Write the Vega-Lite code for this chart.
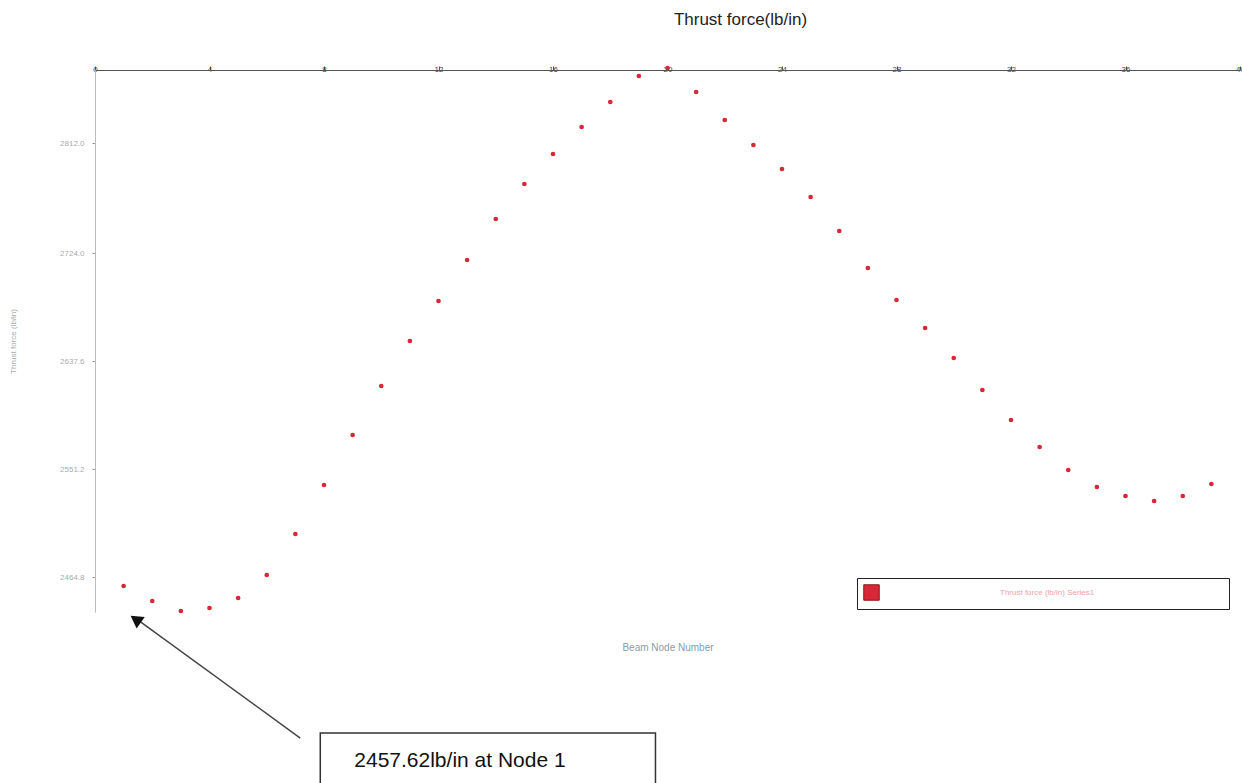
{
  "$schema": "https://vega.github.io/schema/vega-lite/v6.json",
  "width": 1145,
  "height": 542,
  "autosize": {"type": "none"},
  "padding": {"left": 95, "top": 70, "right": 2, "bottom": 171},
  "background": "white",
  "config": {"view": {"stroke": null}, "font": "Liberation Sans"},
  "title": {"text": "Thrust force(lb/in)", "fontSize": 17, "fontWeight": "normal", "color": "#222", "anchor": "middle", "dx": 73, "offset": 36, "font": "Liberation Sans"},
  "datasets": {
    "pts": [
      {"node": 1, "force": 2457.6, "series": "Thrust force (lb/in)  Series1"},
      {"node": 2, "force": 2445.6, "series": "Thrust force (lb/in)  Series1"},
      {"node": 3, "force": 2437.6, "series": "Thrust force (lb/in)  Series1"},
      {"node": 4, "force": 2440.0, "series": "Thrust force (lb/in)  Series1"},
      {"node": 5, "force": 2448.0, "series": "Thrust force (lb/in)  Series1"},
      {"node": 6, "force": 2466.4, "series": "Thrust force (lb/in)  Series1"},
      {"node": 7, "force": 2499.2, "series": "Thrust force (lb/in)  Series1"},
      {"node": 8, "force": 2538.4, "series": "Thrust force (lb/in)  Series1"},
      {"node": 9, "force": 2578.4, "series": "Thrust force (lb/in)  Series1"},
      {"node": 10, "force": 2617.6, "series": "Thrust force (lb/in)  Series1"},
      {"node": 11, "force": 2653.6, "series": "Thrust force (lb/in)  Series1"},
      {"node": 12, "force": 2685.6, "series": "Thrust force (lb/in)  Series1"},
      {"node": 13, "force": 2718.4, "series": "Thrust force (lb/in)  Series1"},
      {"node": 14, "force": 2751.2, "series": "Thrust force (lb/in)  Series1"},
      {"node": 15, "force": 2779.2, "series": "Thrust force (lb/in)  Series1"},
      {"node": 16, "force": 2803.2, "series": "Thrust force (lb/in)  Series1"},
      {"node": 17, "force": 2824.8, "series": "Thrust force (lb/in)  Series1"},
      {"node": 18, "force": 2844.8, "series": "Thrust force (lb/in)  Series1"},
      {"node": 19, "force": 2865.6, "series": "Thrust force (lb/in)  Series1"},
      {"node": 20, "force": 2872.0, "series": "Thrust force (lb/in)  Series1"},
      {"node": 21, "force": 2852.8, "series": "Thrust force (lb/in)  Series1"},
      {"node": 22, "force": 2830.4, "series": "Thrust force (lb/in)  Series1"},
      {"node": 23, "force": 2810.4, "series": "Thrust force (lb/in)  Series1"},
      {"node": 24, "force": 2791.2, "series": "Thrust force (lb/in)  Series1"},
      {"node": 25, "force": 2768.8, "series": "Thrust force (lb/in)  Series1"},
      {"node": 26, "force": 2741.6, "series": "Thrust force (lb/in)  Series1"},
      {"node": 27, "force": 2712.0, "series": "Thrust force (lb/in)  Series1"},
      {"node": 28, "force": 2686.4, "series": "Thrust force (lb/in)  Series1"},
      {"node": 29, "force": 2664.0, "series": "Thrust force (lb/in)  Series1"},
      {"node": 30, "force": 2640.0, "series": "Thrust force (lb/in)  Series1"},
      {"node": 31, "force": 2614.4, "series": "Thrust force (lb/in)  Series1"},
      {"node": 32, "force": 2590.4, "series": "Thrust force (lb/in)  Series1"},
      {"node": 33, "force": 2568.8, "series": "Thrust force (lb/in)  Series1"},
      {"node": 34, "force": 2550.4, "series": "Thrust force (lb/in)  Series1"},
      {"node": 35, "force": 2536.8, "series": "Thrust force (lb/in)  Series1"},
      {"node": 36, "force": 2529.6, "series": "Thrust force (lb/in)  Series1"},
      {"node": 37, "force": 2525.6, "series": "Thrust force (lb/in)  Series1"},
      {"node": 38, "force": 2529.6, "series": "Thrust force (lb/in)  Series1"},
      {"node": 39, "force": 2539.2, "series": "Thrust force (lb/in)  Series1"}
    ],
    "note": [
      {"x1": 7.87, "x2": 19.58, "y1": 2340.0, "y2": 2285.0, "tx": 12.75, "ty": 2318.0, "label": "2457.62lb/in at Node 1", "ax1": 7.17, "ay1": 2336.0, "ax2": 1.35, "ay2": 2433.0, "hx": 1.42, "hy": 2431.0}
    ]
  },
  "layer": [
    {
      "data": {"name": "pts"},
      "mark": {"type": "circle", "size": 22, "opacity": 1, "clip": false},
      "encoding": {
        "x": {"field": "node", "type": "quantitative", "scale": {"domain": [0, 40], "nice": false, "zero": false},
          "axis": {"orient": "top", "title": null, "values": [0,4,8,12,16,20,24,28,32,36,40], "grid": false, "domainColor": "#555", "domainWidth": 1, "tickColor": "#555", "tickSize": 4, "labelFontSize": 8, "labelColor": "#444", "labelPadding": -7, "labelFlush": false}},
        "y": {"field": "force", "type": "quantitative", "scale": {"domain": [2436.82, 2870.42], "nice": false, "zero": false},
          "axis": {"title": "Thrust force (lb/in)", "titleFontSize": 8, "titleColor": "#aaa", "titleFontWeight": "normal", "titlePadding": 42, "values": [2464.82, 2551.22, 2637.62, 2724.02, 2812.02], "format": ".1f", "grid": false, "domainColor": "#bbb", "tickColor": "#999", "tickSize": 3, "labelFontSize": 8, "labelColor": "#aaa", "labelPadding": 8}},
        "color": {"field": "series", "type": "nominal", "scale": {"range": ["#d62836"]},
          "legend": {"orient": "none", "legendX": 762, "legendY": 508, "title": null, "symbolType": "square", "symbolSize": 240, "symbolFillColor": "#ee2630", "symbolStrokeColor": "#8a1a1a", "symbolStrokeWidth": 1, "labelColor": "#f4a0a8", "labelFontSize": 8, "labelOffset": 120, "labelLimit": 400, "labelExpr": "pad(datum.label, 50, '\u2800', 'right')", "strokeColor": "#222", "padding": 6, "fillColor": "white"}}
      }
    },
    {
      "data": {"name": "note"},
      "mark": {"type": "rect", "fill": "white", "stroke": "#333", "strokeWidth": 1.5, "clip": false},
      "encoding": {
        "x": {"field": "x1", "type": "quantitative", "axis": {"orient": "bottom", "title": "Beam Node Number", "titleFontSize": 10, "titleColor": "#8a9ab0", "titleFontWeight": "normal", "titlePadding": 30, "labels": false, "ticks": false, "domain": false, "grid": false}},
        "x2": {"field": "x2"},
        "y": {"field": "y1", "type": "quantitative"},
        "y2": {"field": "y2"}
      }
    },
    {
      "data": {"name": "note"},
      "mark": {"type": "text", "fontSize": 21, "color": "#111", "font": "Liberation Sans", "clip": false},
      "encoding": {
        "x": {"field": "tx", "type": "quantitative", "axis": null},
        "y": {"field": "ty", "type": "quantitative"},
        "text": {"field": "label"}
      }
    },
    {
      "data": {"name": "note"},
      "mark": {"type": "rule", "color": "#444", "strokeWidth": 1.5, "clip": false},
      "encoding": {
        "x": {"field": "ax1", "type": "quantitative", "axis": null},
        "y": {"field": "ay1", "type": "quantitative"},
        "x2": {"field": "ax2"},
        "y2": {"field": "ay2"}
      }
    },
    {
      "data": {"name": "note"},
      "mark": {"type": "point", "shape": "triangle-up", "filled": true, "color": "#111", "size": 200, "angle": -55, "opacity": 1, "clip": false},
      "encoding": {
        "x": {"field": "hx", "type": "quantitative", "axis": null},
        "y": {"field": "hy", "type": "quantitative"}
      }
    }
  ]
}
